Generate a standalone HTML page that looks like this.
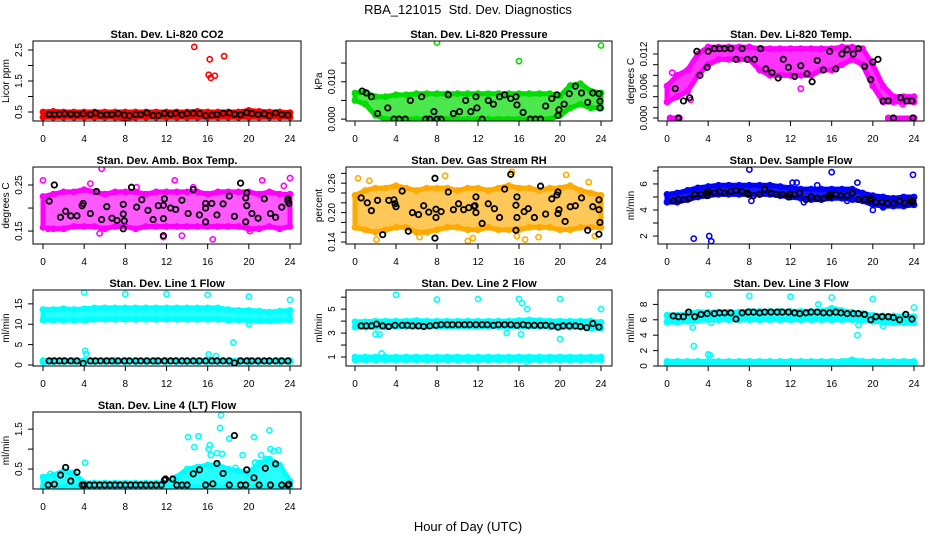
<!DOCTYPE html>
<html><head><meta charset="utf-8"><style>
html,body{margin:0;padding:0;background:#fff;}
svg{display:block;font-family:"Liberation Sans",sans-serif;}
</style></head><body>
<svg id="chart" width="936" height="540" viewBox="0 0 936 540" xmlns="http://www.w3.org/2000/svg">
<text x="468" y="14" font-size="13" text-anchor="middle">RBA_121015&#160; Std. Dev. Diagnostics</text>
<text x="468" y="531" font-size="13" text-anchor="middle">Hour of Day (UTC)</text>
</svg>
<script>
const HOURS=[0,1,2,3,4,5,6,7,8,9,10,11,12,13,14,15,16,17,18,19,20,21,22,23,24];
const REG_X=[0.6,1.1,1.6,2.1,2.7,3.3,3.9,4.6,5.1,5.6,6.2,6.7,7.3,7.9,8.4,9,9.5,10.1,10.7,11.2,11.8,12.4,12.9,13.5,14,14.6,15.2,15.8,16.4,16.9,17.5,18.1,18.6,19.2,19.8,20.3,20.9,21.5,22,22.6,23.2,23.8];
const X_TICKS=[0,4,8,12,16,20,24];

// Panel 1 CO2
const co2Lo=[0.33,0.33,0.33,0.33,0.33,0.33,0.33,0.33,0.3,0.33,0.33,0.33,0.33,0.33,0.33,0.33,0.33,0.33,0.33,0.33,0.33,0.33,0.33,0.33,0.33];
const co2Hi=[0.5,0.52,0.5,0.5,0.5,0.5,0.5,0.5,0.5,0.5,0.5,0.5,0.5,0.5,0.5,0.52,0.5,0.5,0.5,0.5,0.55,0.52,0.5,0.5,0.48];
const co2OutX=[14.7,16.2,16.1,16.3,16.7,17.6];
const co2OutY=[2.6,2.2,1.7,1.6,1.67,2.3];
const co2BlkY=[0.42,0.42,0.43,0.44,0.43,0.42,0.44,0.42,0.47,0.40,0.41,0.42,0.45,0.40,0.38,0.42,0.42,0.47,0.39,0.39,0.45,0.43,0.46,0.41,0.45,0.46,0.45,0.38,0.40,0.42,0.46,0.47,0.43,0.41,0.48,0.45,0.42,0.44,0.38,0.47,0.42,0.40];

// Panel 2 Pressure
const prLo=[0.005,0.004,0.001,0,0,0,0,0,0,0,0,0,0,0,0,0,0,0,0,0,0.001,0.003,0.004,0.003,0.003];
const prHi=[0.007,0.0072,0.006,0.006,0.0065,0.0065,0.0068,0.0068,0.0068,0.0068,0.0068,0.0068,0.0068,0.0068,0.0068,0.0068,0.0068,0.0068,0.0068,0.0068,0.0062,0.009,0.0095,0.0075,0.007];
const prOutX=[8,16,24];
const prOutY=[0.0205,0.0155,0.0197];
const prBlkX=[0.7,1.1,1.6,2.2,3.2,3.8,4.3,4.9,5.4,6.5,6.9,7.3,7.7,8,8.4,9.1,9.6,10.2,10.8,11.3,11.8,11.9,12.4,13,13.5,14.1,14.6,15.2,15.7,15.8,16.4,17.1,17.6,18.1,18.6,19.2,19.7,19.8,19.9,20.4,20.9,21.5,22.1,22.7,23.2,23.8,23.9,23.9];
const prBlkY=[0.0075,0.007,0.006,0.0015,0.003,0,0,0,0.005,0.006,0,0,0.002,0,0,0.0065,0.0015,0.002,0.005,0.002,0.006,0.003,0,0.005,0.004,0.006,0.0065,0.0055,0.006,0.0038,0.0018,0,0,0,0.0035,0.0055,0.0065,0.001,0.0025,0.004,0.0068,0.0088,0.007,0.0045,0.007,0.0068,0.003,0.0048];

// Panel 3 Temp
const tpLo=[0.003,0.004,0.005,0.008,0.010,0.011,0.011,0.011,0.011,0.009,0.008,0.008,0.008,0.008,0.008,0.009,0.009,0.010,0.011,0.010,0.006,0.003,0.003,0.003,0.003];
const tpHi=[0.006,0.008,0.009,0.012,0.0133,0.0133,0.0133,0.0133,0.0133,0.013,0.013,0.013,0.013,0.013,0.013,0.013,0.013,0.0133,0.0133,0.013,0.010,0.006,0.004,0.004,0.004];
const tpZeroX=[0.3,1.2,21.5,24];
const tpZeroY=[0,0,0,0];
const tpOutX=[13,22.9,0.5,2.3];
const tpOutY=[0.0055,0.0026,0.0085,0.0034];
const tpBlkX=[0.8,1.1,1.6,2.2,3.2,3.9,2.9,4,4.6,5.1,5.6,6.2,6.7,7.3,7.8,8.5,9.1,9.6,10.2,10.8,11.3,11.8,12.4,13,13.6,14.1,14.6,15.2,15.8,16.4,17,17.5,18.1,18.6,19.2,19.8,20,20.5,21,21.5,22,22.7,23.3,23.8,23.9];
const tpBlkY=[0.0055,0,0.0032,0.0038,0.008,0.0095,0.0125,0.0125,0.013,0.013,0.013,0.013,0.011,0.013,0.011,0.011,0.013,0.0092,0.0085,0.0075,0.011,0.0095,0.0078,0.0098,0.0083,0.0068,0.0108,0.009,0.0125,0.0092,0.012,0.0128,0.012,0.013,0.0097,0.0072,0.0105,0.011,0.0032,0.0032,0,0.0038,0.0032,0.0032,0];

// Panel 4 Amb Box Temp
const abLo=[0.158,0.155,0.155,0.16,0.16,0.16,0.155,0.16,0.16,0.155,0.16,0.16,0.16,0.16,0.16,0.16,0.16,0.16,0.16,0.16,0.155,0.155,0.16,0.155,0.16];
const abHi=[0.225,0.23,0.235,0.235,0.24,0.235,0.23,0.235,0.235,0.235,0.23,0.235,0.235,0.235,0.235,0.235,0.23,0.235,0.235,0.235,0.235,0.23,0.235,0.23,0.23];
const abOutX=[0,5.7,16.5,11.7,24,12.8,21.3,5.5,0.5,4.6,9.1,14.6,23.4,20.1,13.5];
const abOutY=[0.26,0.285,0.132,0.137,0.265,0.26,0.26,0.145,0.155,0.253,0.245,0.245,0.248,0.15,0.14];
const abBlkX=[0.6,1.1,1.7,2.2,2.7,3.3,3.8,3.9,4.6,5.2,5.7,6.2,6.7,7.2,7.8,7.8,7.9,7.8,8.6,9.1,9.6,10.2,10.7,11.2,11.7,11.8,11.7,11.7,12.4,12.9,13.5,14.1,14.6,15.2,15.8,15.8,15.8,16.4,16.9,17.5,18.1,18.6,19.2,19.7,19.8,19.8,19.7,20.3,20.9,21.5,22.1,22.6,23.2,23.8,23.8,23.9];
const abBlkY=[0.215,0.25,0.18,0.193,0.183,0.183,0.205,0.21,0.188,0.236,0.175,0.203,0.178,0.173,0.187,0.208,0.172,0.155,0.245,0.202,0.218,0.195,0.175,0.205,0.206,0.22,0.177,0.14,0.2,0.197,0.217,0.188,0.24,0.185,0.21,0.2,0.17,0.21,0.185,0.209,0.226,0.182,0.254,0.222,0.233,0.205,0.17,0.188,0.178,0.22,0.188,0.18,0.202,0.22,0.215,0.21];

// Panel 5 RH
const rhLo=[0.17,0.165,0.16,0.165,0.17,0.17,0.16,0.16,0.165,0.17,0.17,0.165,0.165,0.17,0.165,0.165,0.165,0.17,0.17,0.17,0.165,0.165,0.17,0.17,0.17];
const rhHi=[0.235,0.245,0.25,0.25,0.255,0.25,0.245,0.25,0.25,0.25,0.245,0.25,0.25,0.245,0.25,0.255,0.25,0.25,0.245,0.25,0.25,0.255,0.245,0.24,0.235];
const rhOutX=[0.3,1.4,8.8,11,11.5,15.3,20.6,22.8,23.4,2.1,6.3,16.6,17.9,15.8];
const rhOutY=[0.27,0.265,0.275,0.142,0.148,0.283,0.277,0.262,0.152,0.145,0.15,0.145,0.15,0.152];
const rhBlkX=[0.6,1.2,1.6,2.2,2.7,3.3,3.8,4,3.9,4.6,5.2,5.6,6.2,6.7,7.2,7.8,7.9,7.9,7.8,8.4,9.1,9.6,10.1,10.6,11.1,11.6,11.8,11.8,11.7,12.4,13,13.6,14.1,14.6,15.2,15.7,15.8,15.8,15.7,16.5,16.9,17.5,18.1,18.6,19.2,19.7,19.8,19.8,19.9,20.5,21,21.5,22.1,22.7,23.2,23.8,23.8,23.9,23.8];
const rhBlkY=[0.23,0.22,0.204,0.225,0.155,0.225,0.226,0.212,0.218,0.244,0.162,0.2,0.196,0.214,0.201,0.27,0.207,0.19,0.148,0.202,0.242,0.206,0.218,0.206,0.21,0.213,0.232,0.2,0.214,0.178,0.218,0.208,0.19,0.248,0.278,0.215,0.232,0.19,0.164,0.202,0.208,0.19,0.254,0.197,0.228,0.236,0.198,0.242,0.206,0.182,0.212,0.214,0.23,0.164,0.212,0.206,0.226,0.18,0.156];

// Panel 6 Sample Flow
const sfLo=[4.6,4.6,4.8,5.0,5.1,5.2,5.2,5.2,5.2,5.2,5.2,5.1,5.0,4.9,4.8,4.8,4.9,4.9,4.8,4.7,4.4,4.3,4.3,4.3,4.4];
const sfHi=[5.2,5.3,5.5,5.7,5.8,5.9,5.9,5.9,5.9,5.9,5.9,5.8,5.7,5.6,5.6,5.6,5.6,5.6,5.6,5.3,5.1,5.0,4.9,5.0,5.0];
const sfOutX=[2.6,4.1,4.3,8,16,23.9,20,12.2,12.6,18.5,14.6,13.3,8.2,17.5,21];
const sfOutY=[1.8,2.0,1.6,7.1,6.9,6.7,4.0,6.1,6.1,6.1,5.9,4.6,4.7,4.7,4.2];
const sfBlkX=[0.6,1.1,1.6,2.2,2.7,3.3,3.8,3.9,4,4.6,5.1,5.6,6.2,6.7,7.3,7.8,7.9,8.4,9,9.5,10.1,10.6,11.2,11.8,11.9,12.4,12.9,13.5,14,14.6,15.2,15.7,15.8,15.9,16.4,16.9,17.5,18,18.6,19.2,19.8,19.8,20.3,20.9,21.4,22,22.6,23.1,23.7,23.8,23.9];
const sfBlkY=[4.7,4.8,4.8,4.9,5.2,5.2,5.3,5.1,5.4,5.3,5.4,5.3,5.4,5.5,5.4,5.3,5.2,5.1,5.2,5.6,5.3,5.2,5.2,5.0,5.2,5.2,5.3,4.8,5.0,4.9,4.9,5.1,5.0,5.2,5.2,5.1,5.1,5.3,4.8,4.8,4.9,4.7,4.6,4.6,4.5,4.5,4.7,4.5,4.7,4.6,4.7];

// Panel 7 Line 1 Flow
const l1Lo=[11,11,11,11,11,11.2,11.2,11.2,11.2,11.2,11.2,11.2,11.2,11.2,11.2,11.2,11.2,11.2,11,11,11,10.8,10.8,11,11];
const l1Hi=[13.6,13.6,13.8,13.6,13.8,14,14,14,14,14,14,14,14,14,14,14,14,14,13.6,13.4,13.4,13.2,13,13.2,13.4];
const l1LowLo=[0.7,0.8,0.8,0.8,0.8,0.8,0.8,0.8,0.8,0.8,0.8,0.8,0.8,0.8,0.8,0.8,0.8,0.8,0.8,0.8,0.7,0.8,0.8,0.8,0.8];
const l1LowHi=[1.1,1.1,1.1,1.1,1.1,1.1,1.1,1.1,1.1,1.1,1.1,1.1,1.1,1.1,1.1,1.1,1.1,1.1,1.1,1.1,1.1,1.1,1.1,1.1,1.1];
const l1OutX=[4,8,12,16,20,24,4.1,4.2,16.1,16.8,18.5,20,4.2,0.1];
const l1OutY=[17.8,17.4,17.4,17.2,16.8,16,3.5,2.7,2.6,2.2,5.5,10,11,0.6];
const l1BlkY=[1,1,1,1,1,1,0.4,1,1,1,1,1,1,1,1,1,1,1,1,1,1,1,1,1,1,1,1,1,1,1,1,1,0.5,1,1,1,1,1,1,1,1,1];

// Panel 8 Line 2 Flow
const l2Lo=[3.5,3.5,3.5,3.5,3.55,3.55,3.55,3.55,3.55,3.55,3.55,3.55,3.55,3.55,3.55,3.55,3.55,3.55,3.55,3.5,3.5,3.5,3.5,3.4,3.4];
const l2Hi=[3.95,3.95,4.0,4.0,4.0,4.0,4.05,4.0,4.0,4.0,4.0,4.0,4.0,4.0,4.0,4.0,4.05,4.1,4.05,4.0,4.0,4.0,4.0,4.0,3.9];
const l2LowLo=[0.75,0.75,0.75,0.75,0.75,0.75,0.75,0.75,0.75,0.75,0.75,0.75,0.75,0.75,0.75,0.75,0.75,0.75,0.75,0.75,0.75,0.75,0.75,0.75,0.75];
const l2LowHi=[1.0,1.0,1.0,1.0,1.0,1.0,1.0,1.0,1.0,1.0,1.0,1.0,1.0,1.0,1.0,1.0,1.0,1.0,1.0,1.0,1.0,1.0,1.0,1.0,1.0];
const l2OutX=[4,8,12,16,16.3,16.8,20,24,14.8,16.2,2,2.4,20,2.6,16.7];
const l2OutY=[6.2,5.8,5.85,5.85,5.5,5,5.85,5,3,2.9,2.9,2.9,2.5,1.3,0.6];
const l2BlkY=[3.6,3.6,3.6,3.75,3.6,3.55,3.65,3.65,3.65,3.6,3.6,3.55,3.6,3.65,3.7,3.7,3.7,3.7,3.7,3.7,3.7,3.7,3.7,3.65,3.7,3.7,3.7,3.65,3.7,3.65,3.65,3.65,3.65,3.6,3.5,3.6,3.6,3.6,3.55,3.45,3.8,3.5];

// Panel 9 Line 3 Flow
const l3Lo=[5.7,5.7,5.8,5.9,6.0,6.0,6.0,6.0,6.0,6.0,6.0,6.0,6.0,6.0,6.0,6.0,6.0,6.0,6.0,6.0,5.8,5.7,5.6,5.6,5.6];
const l3Hi=[6.6,6.6,6.8,7.0,7.0,7.0,7.0,7.0,7.1,7.1,7.1,7.1,7.1,7.1,7.1,7.1,7.5,7.2,7.0,6.8,6.6,6.5,6.5,6.5,6.4];
const l3LowLo=[0.3,0.3,0.3,0.3,0.3,0.3,0.3,0.3,0.3,0.3,0.3,0.3,0.3,0.3,0.3,0.3,0.3,0.3,0.3,0.3,0.3,0.3,0.3,0.3,0.3];
const l3LowHi=[0.6,0.6,0.6,0.6,0.6,0.6,0.6,0.6,0.6,0.6,0.6,0.6,0.6,0.6,0.6,0.6,0.6,0.6,0.8,0.6,0.6,0.6,0.6,0.6,0.6];
const l3OutX=[4,8,12,16,20,24,2.5,2.6,4,4.2,18.5,18.6,21,14.7,4.3];
const l3OutY=[9.3,9.1,9,8.9,8.7,7.6,5,2.6,1.5,1.4,4,5.3,5.2,8,5.6];
const l3BlkY=[6.5,6.4,6.4,7.0,6.4,6.7,6.8,6.8,6.9,6.9,6.9,6.1,6.9,7.0,7.0,6.9,7.0,7.0,7.0,7.0,7.0,6.9,6.8,6.9,7.0,7.0,6.9,6.9,7.0,6.9,6.8,6.8,6.8,6.7,6.0,6.4,6.4,6.4,6.3,6.0,6.7,6.1];

// Panel 10 Line 4 (LT) Flow
const l4Lo=[0.05,0.05,0.05,0.05,0.05,0.05,0.05,0.05,0.05,0.05,0.05,0.05,0.05,0.05,0.05,0.05,0.05,0.05,0.05,0.05,0.05,0.05,0.05,0.05,0.05];
const l4Hi=[0.3,0.35,0.45,0.4,0.15,0.15,0.15,0.15,0.15,0.15,0.15,0.15,0.15,0.3,0.5,0.55,0.6,0.6,0.5,0.45,0.4,0.65,0.75,0.6,0.2];
const l4OutX=[0.2,0.7,4.1,14.1,14.7,15.1,16.2,16.1,16.3,16.9,17.2,17.3,17.4,18.1,18.7,19.4,20.5,20.6,21.2,21.7,22,22.1,22.4,22.9,22.5];
const l4OutY=[0.25,0.38,0.66,1.3,1.05,1.32,1.1,1.0,0.85,0.9,1.53,1.85,0.88,1.26,0.53,0.85,1.3,0.66,0.85,0.75,1.47,1.0,0.95,0.97,0.62];
const l4BlkX=[0.5,1.1,1.7,2.2,2.7,3.3,3.8,4.0,4.5,5,5.5,6,6.5,7,7.5,8,8.5,9,9.5,10,10.5,11,11.5,11.8,11.9,12.6,13,13.5,14,14.6,15.2,15.8,16.5,16.9,17.5,18.1,18.6,19.2,19.7,19.8,20.5,21,21.6,22.1,22.6,23.2,23.8,23.9];
const l4BlkY=[0.1,0.12,0.35,0.54,0.2,0.42,0.1,0.1,0.1,0.1,0.1,0.1,0.1,0.1,0.1,0.1,0.1,0.1,0.1,0.1,0.1,0.1,0.1,0.22,0.25,0.25,0.1,0.1,0.1,0.38,0.48,0.1,0.13,0.64,0.39,0.1,1.34,0.1,0.1,0.48,0.28,0.1,0.52,0.1,0.63,0.1,0.1,0.12];

const COLS=[{l:33,r:301,x0:43,x24:290},{l:346,r:612,x0:355,x24:601},{l:658,r:924,x0:667,x24:914}];
const ROWS=[{t:41,b:121},{t:167,b:244},{t:290,b:366},{t:412,b:489}];

const panels=[
 {key:'co2',title:'Stan. Dev. Li-820 CO2',ylab:'Licor ppm',r:0,c:0,dom:[0.21,2.79],ticks:[0.5,1,1.5,2,2.5],labs:['0.5','','1.5','','2.5'],col:'#ff0000',op:0.9,
  bands:[[HOURS,co2Lo,co2Hi]],out:[co2OutX,co2OutY],blk:[REG_X,co2BlkY]},
 {key:'pressure',title:'Stan. Dev. Li-820 Pressure',ylab:'kPa',r:0,c:1,dom:[-0.0005,0.0209],ticks:[0,0.005,0.01,0.015],labs:['0.000','','0.010',''],col:'#00dd00',op:0.7,
  bands:[[HOURS,prLo,prHi]],out:[prOutX,prOutY],blk:[prBlkX,prBlkY]},
 {key:'temp',title:'Stan. Dev. Li-820 Temp.',ylab:'degrees C',r:0,c:2,dom:[-0.00056,0.01444],ticks:[0,0.002,0.004,0.006,0.008,0.01,0.012],labs:['0.000','','','0.006','','','0.012'],col:'#ff00ff',op:0.8,
  bands:[[HOURS,tpLo,tpHi],[tpZeroX.slice(0,2),tpZeroY.slice(0,2),tpZeroY.slice(0,2)],[tpZeroX.slice(2),tpZeroY.slice(2),tpZeroY.slice(2)]],out:[tpOutX,tpOutY],blk:[tpBlkX,tpBlkY]},
 {key:'ambbox',title:'Stan. Dev. Amb. Box Temp.',ylab:'degrees C',r:1,c:0,dom:[0.122,0.289],ticks:[0.15,0.2,0.25],labs:['0.15','','0.25'],col:'#ff00ff',op:0.65,
  bands:[[HOURS,abLo,abHi]],out:[abOutX,abOutY],blk:[abBlkX,abBlkY]},
 {key:'rh',title:'Stan. Dev. Gas Stream RH',ylab:'percent',r:1,c:1,dom:[0.136,0.293],ticks:[0.14,0.16,0.18,0.2,0.22,0.24,0.26,0.28],labs:['0.14','','','0.20','','','0.26',''],col:'#ffaa00',op:0.65,
  bands:[[HOURS,rhLo,rhHi]],out:[rhOutX,rhOutY],blk:[rhBlkX,rhBlkY]},
 {key:'sampleflow',title:'Stan. Dev. Sample Flow',ylab:'ml/min',r:1,c:2,dom:[1.39,7.3],ticks:[2,3,4,5,6,7],labs:['2','','4','','6',''],col:'#0000ff',op:0.9,
  bands:[[HOURS,sfLo,sfHi]],out:[sfOutX,sfOutY],blk:[sfBlkX,sfBlkY]},
 {key:'line1',title:'Stan. Dev. Line 1 Flow',ylab:'ml/min',r:2,c:0,dom:[-0.25,18.4],ticks:[0,5,10,15],labs:['0','5','10','15'],col:'#00ffff',op:0.85,
  bands:[[HOURS,l1Lo,l1Hi],[HOURS,l1LowLo,l1LowHi]],out:[l1OutX,l1OutY],blk:[REG_X,l1BlkY]},
 {key:'line2',title:'Stan. Dev. Line 2 Flow',ylab:'ml/min',r:2,c:1,dom:[0.25,6.6],ticks:[1,2,3,4,5,6],labs:['1','','3','','5',''],col:'#00ffff',op:0.9,
  bands:[[HOURS,l2Lo,l2Hi],[HOURS,l2LowLo,l2LowHi]],out:[l2OutX,l2OutY],blk:[REG_X,l2BlkY]},
 {key:'line3',title:'Stan. Dev. Line 3 Flow',ylab:'ml/min',r:2,c:2,dom:[0,9.87],ticks:[0,2,4,6,8],labs:['0','2','4','6','8'],col:'#00ffff',op:0.9,
  bands:[[HOURS,l3Lo,l3Hi],[HOURS,l3LowLo,l3LowHi]],out:[l3OutX,l3OutY],blk:[REG_X,l3BlkY]},
 {key:'line4',title:'Stan. Dev. Line 4 (LT) Flow',ylab:'ml/min',r:3,c:0,dom:[0,1.93],ticks:[0.5,1,1.5],labs:['0.5','','1.5'],col:'#00ffff',op:0.85,
  bands:[[HOURS,l4Lo,l4Hi]],out:[l4OutX,l4OutY],blk:[l4BlkX,l4BlkY]}
];

const NS='http://www.w3.org/2000/svg';
const svg=document.getElementById('chart');
function mk(tag,attrs,parent){const e=document.createElementNS(NS,tag);for(const k in attrs)e.setAttribute(k,attrs[k]);(parent||svg).appendChild(e);return e;}

panels.forEach(p=>{
  const C=COLS[p.c],R=ROWS[p.r];
  const xs=h=>C.x0+(C.x24-C.x0)*h/24;
  const ys=v=>R.b-(v-p.dom[0])/(p.dom[1]-p.dom[0])*(R.b-R.t);
  const g=mk('g',{});
  
  
  const clipId='clip-'+p.key;
  const cp=mk('clipPath',{id:clipId},g);
  mk('rect',{x:C.l,y:R.t,width:C.r-C.l,height:R.b-R.t},cp);
  const plot=mk('g',{'clip-path':'url(#'+clipId+')'},g);
  p.bands.forEach(b=>{
    const [bx,lo,hi]=b;
    let pts=[];
    for(let i=0;i<bx.length;i++)pts.push(xs(bx[i])+','+ys(hi[i]));
    for(let i=bx.length-1;i>=0;i--)pts.push(xs(bx[i])+','+ys(lo[i]));
    const poly=mk('polygon',{points:pts.join(' '),fill:p.col,'fill-opacity':p.op,stroke:p.col,'stroke-width':5,'stroke-linejoin':'round'},plot);
    
    
    for(let i=0;i<bx.length;i++){
      [lo[i],hi[i]].forEach(v=>{
        const c=mk('circle',{cx:xs(bx[i]),cy:ys(v),r:2.6,fill:'none',stroke:p.col,'stroke-width':1.6},plot);
        
        
      });
    }
  });
  const [ox,oy]=p.out;
  for(let i=0;i<ox.length;i++){
    const c=mk('circle',{cx:xs(ox[i]),cy:ys(oy[i]),r:2.6,fill:'none',stroke:p.col,'stroke-width':1.6},plot);
    
    
  }
  const [bx,by]=p.blk;
  for(let i=0;i<by.length;i++){
    const c=mk('circle',{cx:xs(bx[i]),cy:ys(by[i]),r:2.7,fill:'none',stroke:'#000','stroke-width':1.8},plot);
    
    
  }
  const box=mk('rect',{x:C.l,y:R.t,width:C.r-C.l,height:R.b-R.t,fill:'none',stroke:'#000','stroke-width':1},g);
  
  
  const t=mk('text',{x:(C.l+C.r)/2,y:R.t-3,'font-size':11,'font-weight':'bold','text-anchor':'middle'},g);
  t.textContent=p.title;
  
  
  mk('line',{x1:xs(0),x2:xs(24),y1:R.b,y2:R.b,stroke:'#000'},g);
  X_TICKS.forEach(h=>{
    mk('line',{x1:xs(h),x2:xs(h),y1:R.b,y2:R.b+5,stroke:'#000'},g);
    const tl=mk('text',{x:xs(h),y:R.b+21,'font-size':10,'text-anchor':'middle'},g);
    tl.textContent=h;
    
    
  });
  mk('line',{x1:C.l,x2:C.l,y1:ys(p.ticks[0]),y2:ys(p.ticks[p.ticks.length-1]),stroke:'#000'},g);
  p.ticks.forEach((v,i)=>{
    const y=ys(v);
    mk('line',{x1:C.l-5,x2:C.l,y1:y,y2:y,stroke:'#000'},g);
    if(p.labs[i]){
      const yl=mk('text',{x:0,y:0,'font-size':10,'text-anchor':'middle',transform:'translate('+(C.l-11)+','+y+') rotate(-90)'},g);
      yl.textContent=p.labs[i];
      
      
    }
  });
  const ya=mk('text',{x:0,y:0,'font-size':10,'text-anchor':'middle',transform:'translate('+(C.l-24)+','+((R.t+R.b)/2)+') rotate(-90)'},g);
  ya.textContent=p.ylab;
  
  
});
</script>
</body></html>
